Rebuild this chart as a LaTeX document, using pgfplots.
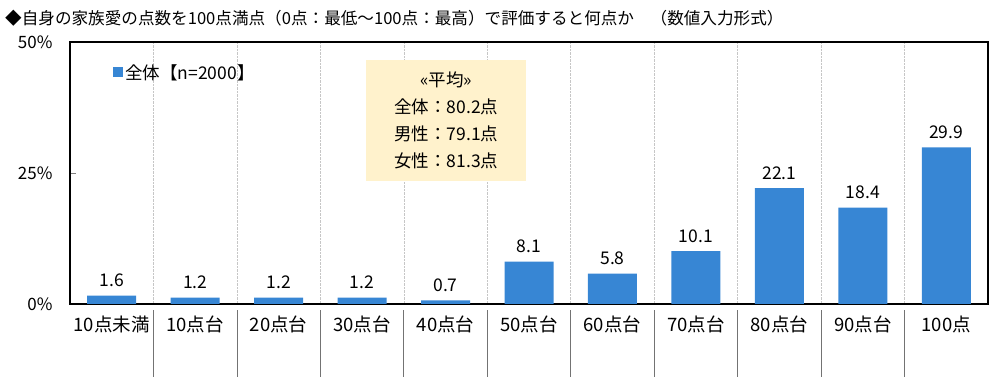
\documentclass[border=0pt]{standalone}
\usepackage{fontspec}
\setmainfont{Noto Sans CJK JP}
\usepackage{pgfplots}
\pgfplotsset{compat=1.18}
\definecolor{barblue}{RGB}{55,134,212}
\definecolor{boxfill}{RGB}{255,242,204}
\begin{document}
\begin{tikzpicture}[x=1pt,y=1pt]
\useasboundingbox (0pt,0pt) rectangle (1000pt,377pt);
\node[anchor=west, font=\fontsize{16.6}{18}\selectfont, inner sep=0] at (5pt,359pt) {◆自身の家族愛の点数を100点満点（0点：最低～100点：最高）で評価すると何点か　（数値入力形式）};
\begin{axis}[
  at={(70pt,73pt)}, anchor=south west,
  scale only axis, width=918pt, height=262pt,
  xmin=-0.5, xmax=10.5, ymin=0, ymax=50,
  ytick={0,25,50},
  yticklabel={\pgfmathprintnumber{\tick}\%},
  ytick pos=left, ytick align=inside,
  major tick length=6pt,
  xtick={0,...,10},
  xticklabels={10点未満,10点台,20点台,30点台,40点台,50点台,60点台,70点台,80点台,90点台,100点},
  major x tick style={draw=none},
  minor xtick={0.5,1.5,...,9.5},
  minor tick length=0pt,
  xminorgrids,
  minor grid style={gray!45, densely dotted, line width=0.6pt},
  axis line style={black, line width=1.3pt},
  /pgf/number format/assume math mode=true,
  xticklabel style={font=\fontsize{18.5}{20}\selectfont, yshift=-8pt},
  yticklabel style={font=\fontsize{17}{20}\selectfont, xshift=-14pt},
  clip=false,
  legend style={at={(axis description cs:0.047,0.882)}, anchor=west, draw=none, fill=none, font=\fontsize{17.5}{20}\selectfont, inner sep=0pt},
  legend image code/.code={\fill[barblue] (0pt,-4pt) rectangle (10pt,6pt);},
]
\addplot[ybar, bar width=49pt, fill=barblue, draw=none,
  nodes near coords, nodes near coords style={font=\fontsize{17.5}{20}\selectfont, yshift=5pt, /pgf/number format/.cd, fixed, fixed zerofill, precision=1}]
  coordinates {(0,1.6) (1,1.2) (2,1.2) (3,1.2) (4,0.7) (5,8.1) (6,5.8) (7,10.1) (8,22.1) (9,18.4) (10,29.9)};
\addlegendentry{全体【n=2000】}
\pgfplotsinvokeforeach{0.5,1.5,2.5,3.5,4.5,5.5,6.5,7.5,8.5,9.5}{
  \draw[gray!90!black, line width=0.8pt] (axis cs:#1,-1.15) -- (axis cs:#1,-13.95);
}
\node[fill=boxfill, minimum width=160pt, minimum height=121pt, inner sep=0pt, font=\fontsize{17.5}{27}\selectfont, align=center] at (axis description cs:0.41,0.702) {«平均»\\全体：80.2点\\男性：79.1点\\女性：81.3点};
\end{axis}
\end{tikzpicture}
\end{document}
